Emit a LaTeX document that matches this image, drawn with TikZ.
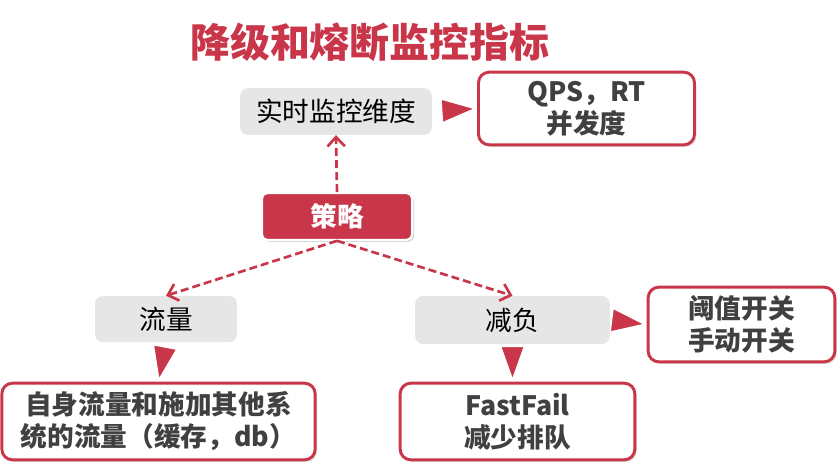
\documentclass[tikz,border=0pt]{standalone}
\usepackage{fontspec}
\setmainfont{Noto Sans CJK SC}
\usetikzlibrary{arrows.meta,shadows}
\definecolor{RA}{HTML}{C9364A}
\definecolor{GA}{HTML}{E6E6E6}
\definecolor{TA}{HTML}{404040}

\tikzset{
  tipend/.tip={Triangle[length=27pt, width=19pt, line width=1pt, fill=RA]},
  barbend/.tip={Straight Barb[length=7pt, width=13pt, line width=2pt]}
}

\begin{document}
\begin{tikzpicture}[x=0.75pt, y=-0.75pt,
    dimbox/.style={fill=GA, rounded corners=6pt, inner sep=0pt,
      font=\fontsize{20}{24}\selectfont, text=black},
    keybox/.style={draw=RA, line width=2.2pt, fill=white, rounded corners=8pt,
      inner sep=0pt, align=center, text=TA,
      font=\fontsize{20}{24}\selectfont\bfseries,
      drop shadow={opacity=0.25, shadow xshift=1.5pt, shadow yshift=-1.5pt}},
    hubbox/.style={draw=white, line width=1.5pt, fill=RA, rounded corners=4pt,
      inner sep=0pt, text=white, font=\fontsize{20}{24}\selectfont\bfseries,
      drop shadow={opacity=0.3, shadow xshift=1.5pt, shadow yshift=-1.5pt}},
    dashlink/.style={draw=RA, line width=2pt, dash pattern=on 6pt off 3pt,
      -barbend},
    tiplink/.style={draw=white, line width=1pt, -tipend}]

    \useasboundingbox (0,0) rectangle (840,465);

    %% title
    \node[font=\fontsize{30}{32}\selectfont\bfseries, text=RA]
      (title) at (370,42) {降级和熔断监控指标};

    %% top row
    \node[dimbox, minimum width=144pt, minimum height=35pt]
      (shishi) at (336,111.5) {实时监控维度};
    \node[keybox, minimum width=162pt, minimum height=54.5pt]
      (qps) at (586.5,108.5) {QPS，RT\\并发度};

    %% strategy
    \node[hubbox, minimum width=112.5pt, minimum height=35pt]
      (celue) at (337,216.5) {策略};

    %% middle row
    \node[dimbox, minimum width=106.5pt, minimum height=34.5pt]
      (liuliang) at (166,319) {流量};
    \node[dimbox, minimum width=146pt, minimum height=36pt]
      (jianfu) at (512.5,320) {减负};
    \node[keybox, minimum width=140pt, minimum height=56pt]
      (kaiguan) at (741.5,324.5) {阈值开关\\手动开关};

    %% bottom row
    \node[keybox, minimum width=235pt, minimum height=57.5pt]
      (ziliu) at (158.5,421.5) {自身流量和施加其他系\\统的流量（缓存，db）};
    \node[keybox, minimum width=176pt, minimum height=57.5pt]
      (fastfail) at (517.5,421.5) {FastFail\\减少排队};

    %% dashed links from strategy
    \draw[dashlink] (celue.north) -- (shishi.south);
    \draw[dashlink] (celue.south) -- (liuliang.north);
    \draw[dashlink] (celue.south) -- (jianfu.north);

    %% triangle links
    \draw[tiplink] (shishi.east) -- (qps.west);
    \draw[tiplink] (liuliang.south) -- (ziliu.north);
    \draw[tiplink] (jianfu.south) -- (fastfail.north -| jianfu.south);
    \draw[tiplink] (jianfu.east) -- (kaiguan.west);

\end{tikzpicture}
\end{document}
